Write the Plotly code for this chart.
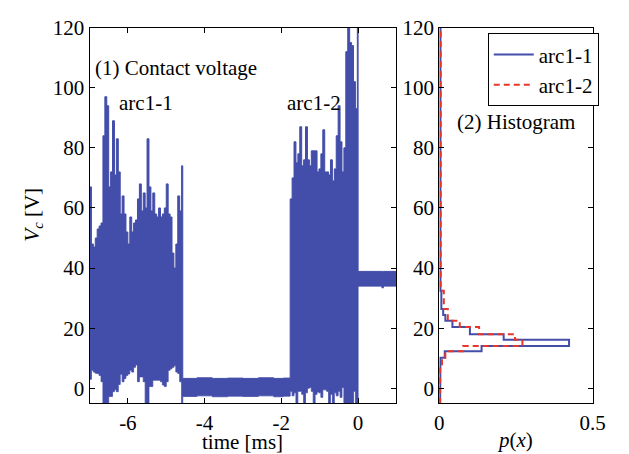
import numpy as np
import plotly.graph_objects as go

# ---------------- data ----------------
# arc1-1 (envelope of the contact voltage, sampled every 0.05 ms)
t_arc1 = [-7.00, -6.95, -6.90, -6.85, -6.80, -6.75, -6.70, -6.65, -6.60, -6.55,
          -6.50, -6.45, -6.40, -6.35, -6.30, -6.25, -6.20, -6.15, -6.10, -6.05,
          -6.00, -5.95, -5.90, -5.85, -5.80, -5.75, -5.70, -5.65, -5.60, -5.55,
          -5.50, -5.45, -5.40, -5.35, -5.30, -5.25, -5.20, -5.15, -5.10, -5.05,
          -5.00, -4.95, -4.90, -4.85, -4.80, -4.75, -4.70, -4.65, -4.60]
up_arc1 = [67, 48, 47, 50, 53, 54, 55, 84, 97, 94,
           67, 72, 89, 71, 83, 72, 58, 64, 58, 52,
           48, 57, 52, 55, 56, 63, 68, 59, 65, 60,
           83, 67, 59, 65, 58, 57, 60, 57, 58, 60,
           68, 58, 57, 45, 40, 48, 64, 59, 74]
low_arc1 = [3, 6, 5.4, 5, 4.9, 4.3, 2.2, -6, -6, -6,
            -2.7, -2.7, -1.1, -0.5, -1.1, 1.3, 4.7, 2.2, 3.3, 4.3,
            4.8, 6, 5.4, 7, 7.8, 2.2, 3.8, 3.8, 2.2, -6,
            -6, 0.6, 0.6, 2.7, 2.7, 2.7, 2.7, 2.2, 1.1, 0.6,
            2.2, 6, 6.5, 7, 7.5, 5.4, 4.9, 2.2, -6]

# low band between the two arcs
t_mid = [-4.57, -4.20, -3.80, -3.40, -3.00, -2.60, -2.20, -1.95]
up_mid = [3.3, 3.5, 3.3, 3.4, 3.3, 3.5, 3.3, 3.4]
low_mid = [-2.7, -2.5, -2.8, -2.6, -2.7, -2.5, -2.8, -2.6]

# arc1-2
t_arc2 = [-1.77, -1.72, -1.67, -1.62, -1.57, -1.52, -1.47, -1.42, -1.37, -1.32,
          -1.27, -1.22, -1.17, -1.12, -1.07, -1.02, -0.97, -0.92, -0.87, -0.82,
          -0.77, -0.72, -0.67, -0.62, -0.57, -0.52, -0.47, -0.42, -0.37, -0.32,
          -0.27, -0.22, -0.17, -0.12, -0.07, -0.02]
up_arc2 = [63, 70, 82, 75, 78, 87, 74, 76, 87, 76,
           74, 79, 79, 79, 72, 73, 78, 86, 72, 72,
           71, 76, 69, 73, 84, 94, 82, 72, 80, 112,
           122, 115, 114, 102, 93, 122]
low_arc2 = [-1, -2.5, -1.5, -6, -1, -1, -2, -6, -1.5, 0,
            0.3, -1, -6, -2, -1.2, -1.5, -3, -0.5, -0.5, -1,
            -6, -2, -6, -1.5, -2.5, -1, -3, 0.3, -6, -6,
            -6, -6, -6, -1, -6, -6]

# after the arc
t_post = [0.0, 0.62, 0.66, 1.0]
up_post = [38.9, 38.9, 38.9, 38.9]
low_post = [34.0, 33.4, 34.0, 34.0]

# histograms (bin edges in V, probabilities)
hist_edges = [-5, 8, 10.2, 12.3, 14.1, 16.2, 18.0, 20.4, 22.5, 24.4, 26.4, 32.5, 120]
p_arc1 = [0.003, 0.004, 0.018, 0.138, 0.423, 0.21, 0.10, 0.043, 0.02, 0.013, 0.007, 0.004]
p_arc2 = [0.003, 0.009, 0.02, 0.078, 0.271, 0.247, 0.13, 0.067, 0.028, 0.028, 0.015, 0.005]

x_ticks_left = [-6, -4, -2, 0]
x_ticklabels_left = ["-6", "-4", "-2", "0"]
y_ticks = [0, 20, 40, 60, 80, 100, 120]
x_ticks_right = [0, 0.5]
x_ticklabels_right = ["0", "0.5"]

# ---------------- styling ----------------
BLUE = "rgb(67,77,170)"
RED = "rgb(232,55,42)"
FONT = "Liberation Serif"
FS = 21
W, H = 629, 454

t_all = t_arc1 + t_mid + t_arc2 + t_post
up_all = up_arc1 + up_mid + up_arc2 + up_post
low_all = low_arc1 + low_mid + low_arc2 + low_post

fig = go.Figure()
fig.add_trace(go.Scatter(x=t_all, y=low_all, mode="lines",
                         line=dict(color=BLUE, width=0.8, shape="hv"),
                         showlegend=False, hoverinfo="skip", xaxis="x", yaxis="y"))
fig.add_trace(go.Scatter(x=t_all, y=up_all, mode="lines",
                         line=dict(color=BLUE, width=1, shape="hv"),
                         fill="tonexty", fillcolor=BLUE,
                         showlegend=False, hoverinfo="skip", xaxis="x", yaxis="y"))


def steps(edges, p):
    e = np.asarray(edges, dtype=float)
    pv = np.asarray(p, dtype=float)
    ys = np.column_stack([e[:-1], e[1:]]).ravel()
    xs = np.repeat(pv, 2)
    return xs, ys


hx1, hy1 = steps(hist_edges, p_arc1)
hx2, hy2 = steps(hist_edges, p_arc2)
fig.add_trace(go.Scatter(x=hx1, y=hy1, mode="lines", name="arc1-1",
                         line=dict(color=BLUE, width=2), xaxis="x2", yaxis="y2"))
fig.add_trace(go.Scatter(x=hx2, y=hy2, mode="lines", name="arc1-2",
                         line=dict(color=RED, width=2, dash="6px,4px"), xaxis="x2", yaxis="y2"))

ydom = [1 - 402 / H, 1 - 16 / H]
axis_common = dict(showline=True, linecolor="black", linewidth=1, mirror="ticks",
                   ticks="inside", ticklen=5, tickcolor="black", tickwidth=1,
                   showgrid=False, zeroline=False,
                   tickfont=dict(family=FONT, size=FS, color="black"))

fig.update_layout(
    width=W, height=H, autosize=False,
    margin=dict(l=0, r=0, t=0, b=0),
    paper_bgcolor="white", plot_bgcolor="white",
    font=dict(family=FONT, size=FS, color="black"),
    xaxis=dict(domain=[87 / W, 403 / W], range=[-7, 1], tickvals=x_ticks_left,
               ticktext=x_ticklabels_left, anchor="y", **axis_common),
    yaxis=dict(domain=ydom, range=[-5, 120], tickvals=y_ticks, anchor="x", **axis_common),
    xaxis2=dict(domain=[447 / W, 605 / W], range=[0, 0.5], tickvals=x_ticks_right,
                ticktext=x_ticklabels_right, anchor="y2", **axis_common),
    yaxis2=dict(domain=ydom, range=[-5, 120], tickvals=y_ticks, anchor="x2", **axis_common),
    legend=dict(x=497 / W, y=1 - 22 / H, xanchor="left", yanchor="top",
                traceorder="normal", itemwidth=40, tracegroupgap=0,
                bgcolor="white", bordercolor="black", borderwidth=1,
                font=dict(family=FONT, size=FS, color="black")),
    showlegend=True,
)

ann = dict(xref="paper", yref="paper", showarrow=False,
           font=dict(family=FONT, size=FS, color="black"))
fig.add_annotation(text="(1) Contact voltage", x=91 / W, y=1 - 58 / H,
                   xanchor="left", yanchor="middle", **ann)
fig.add_annotation(text="arc1-1", x=115 / W, y=1 - 93 / H, xanchor="left", yanchor="middle", **ann)
fig.add_annotation(text="arc1-2", x=288 / W, y=1 - 93 / H, xanchor="left", yanchor="middle", **ann)
fig.add_annotation(text="(2) Histogram", x=463 / W, y=1 - 113 / H, xanchor="left", yanchor="middle", **ann)
fig.add_annotation(text="<i>V</i><sub><i>c</i></sub> [V]", x=28 / W, y=1 - 208 / H,
                   textangle=-90, xanchor="center", yanchor="middle", **ann)
fig.add_annotation(text="time [ms]", x=245 / W, y=1 - 442 / H, xanchor="center", yanchor="middle", **ann)
fig.add_annotation(text="<i>p</i>(<i>x</i>)", x=525 / W, y=1 - 440 / H, xanchor="center", yanchor="middle", **ann)

fig.write_html("out.html")
